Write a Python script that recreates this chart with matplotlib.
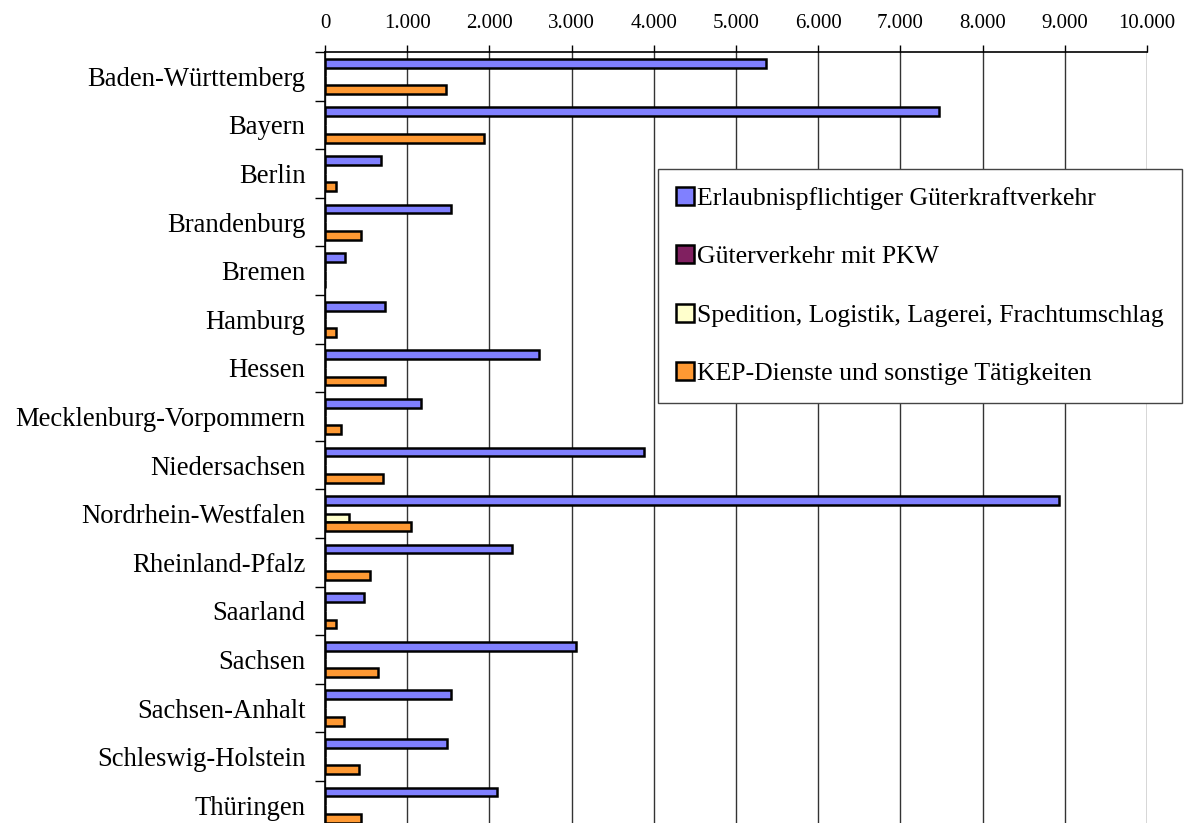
import matplotlib.pyplot as plt
import numpy as np
from matplotlib.ticker import FuncFormatter, MultipleLocator

# Bundesländer, top to bottom
laender = [
    "Baden-Württemberg", "Bayern", "Berlin", "Brandenburg", "Bremen",
    "Hamburg", "Hessen", "Mecklenburg-Vorpommern", "Niedersachsen",
    "Nordrhein-Westfalen", "Rheinland-Pfalz", "Saarland", "Sachsen",
    "Sachsen-Anhalt", "Schleswig-Holstein", "Thüringen",
]

serien = [
    "Erlaubnispflichtiger Güterkraftverkehr",
    "Güterverkehr mit PKW",
    "Spedition, Logistik, Lagerei, Frachtumschlag",
    "KEP-Dienste und sonstige Tätigkeiten",
]

gueterkraftverkehr = [5370, 7465, 680, 1535, 245, 735, 2600, 1165, 3885,
                      8935, 2270, 480, 3050, 1530, 1485, 2095]
pkw = [0] * 16
spedition = [0, 0, 0, 0, 0, 0, 0, 0, 0, 295, 0, 0, 0, 0, 0, 0]
kep = [1470, 1930, 135, 440, 0, 135, 735, 200, 710,
       1050, 545, 140, 640, 235, 415, 440]

farben = ["#8080FF", "#802060", "#FFFFCC", "#FF9933"]

plt.rcParams['font.family'] = ['Liberation Serif', 'DejaVu Serif']

fig = plt.figure(figsize=(11.89, 8.23), dpi=100)
ax = fig.add_axes([0.2733, -0.008, 0.6914, 0.9448])

n = len(laender)
y = np.arange(n)
h = 0.181
werte = [gueterkraftverkehr, pkw, spedition, kep]
for j, (vals, col, name) in enumerate(zip(werte, farben, serien)):
    ax.barh(y + (j - 1.5) * h, vals, height=h, color=col,
            edgecolor='black', linewidth=1.8, label=name, zorder=3)

ax.set_xlim(0, 10000)
ax.set_ylim(n - 0.5, -0.5)

ax.xaxis.tick_top()
ax.xaxis.set_major_locator(MultipleLocator(1000))
ax.xaxis.set_major_formatter(FuncFormatter(lambda v, p: f"{int(v):,}".replace(",", ".")))
ax.tick_params(axis='x', length=5, width=1, pad=9, labelsize=15)
ax.grid(axis='x', color='#333333', linewidth=1, zorder=0)

ax.set_yticks(y)
ax.set_yticklabels(laender)
ax.set_yticks(np.arange(n + 1) - 0.5, minor=True)
ax.tick_params(axis='y', which='major', length=0, pad=14, labelsize=19.2)
ax.tick_params(axis='y', which='minor', length=7, width=1)

for s in ['right', 'bottom']:
    ax.spines[s].set_visible(False)
ax.spines['left'].set_linewidth(1.2)
ax.spines['top'].set_linewidth(1.2)

leg = ax.legend(loc='upper left', bbox_to_anchor=(0.405, 0.8495),
                fontsize=18.5, frameon=True, fancybox=False, framealpha=1,
                edgecolor='#444444', labelspacing=1.38, handlelength=0.7,
                handleheight=0.7, handletextpad=0.12, borderpad=0.7,
                borderaxespad=0)
leg.get_frame().set_linewidth(1)
leg.set_zorder(5)

fig.savefig("out.png", dpi=100)
